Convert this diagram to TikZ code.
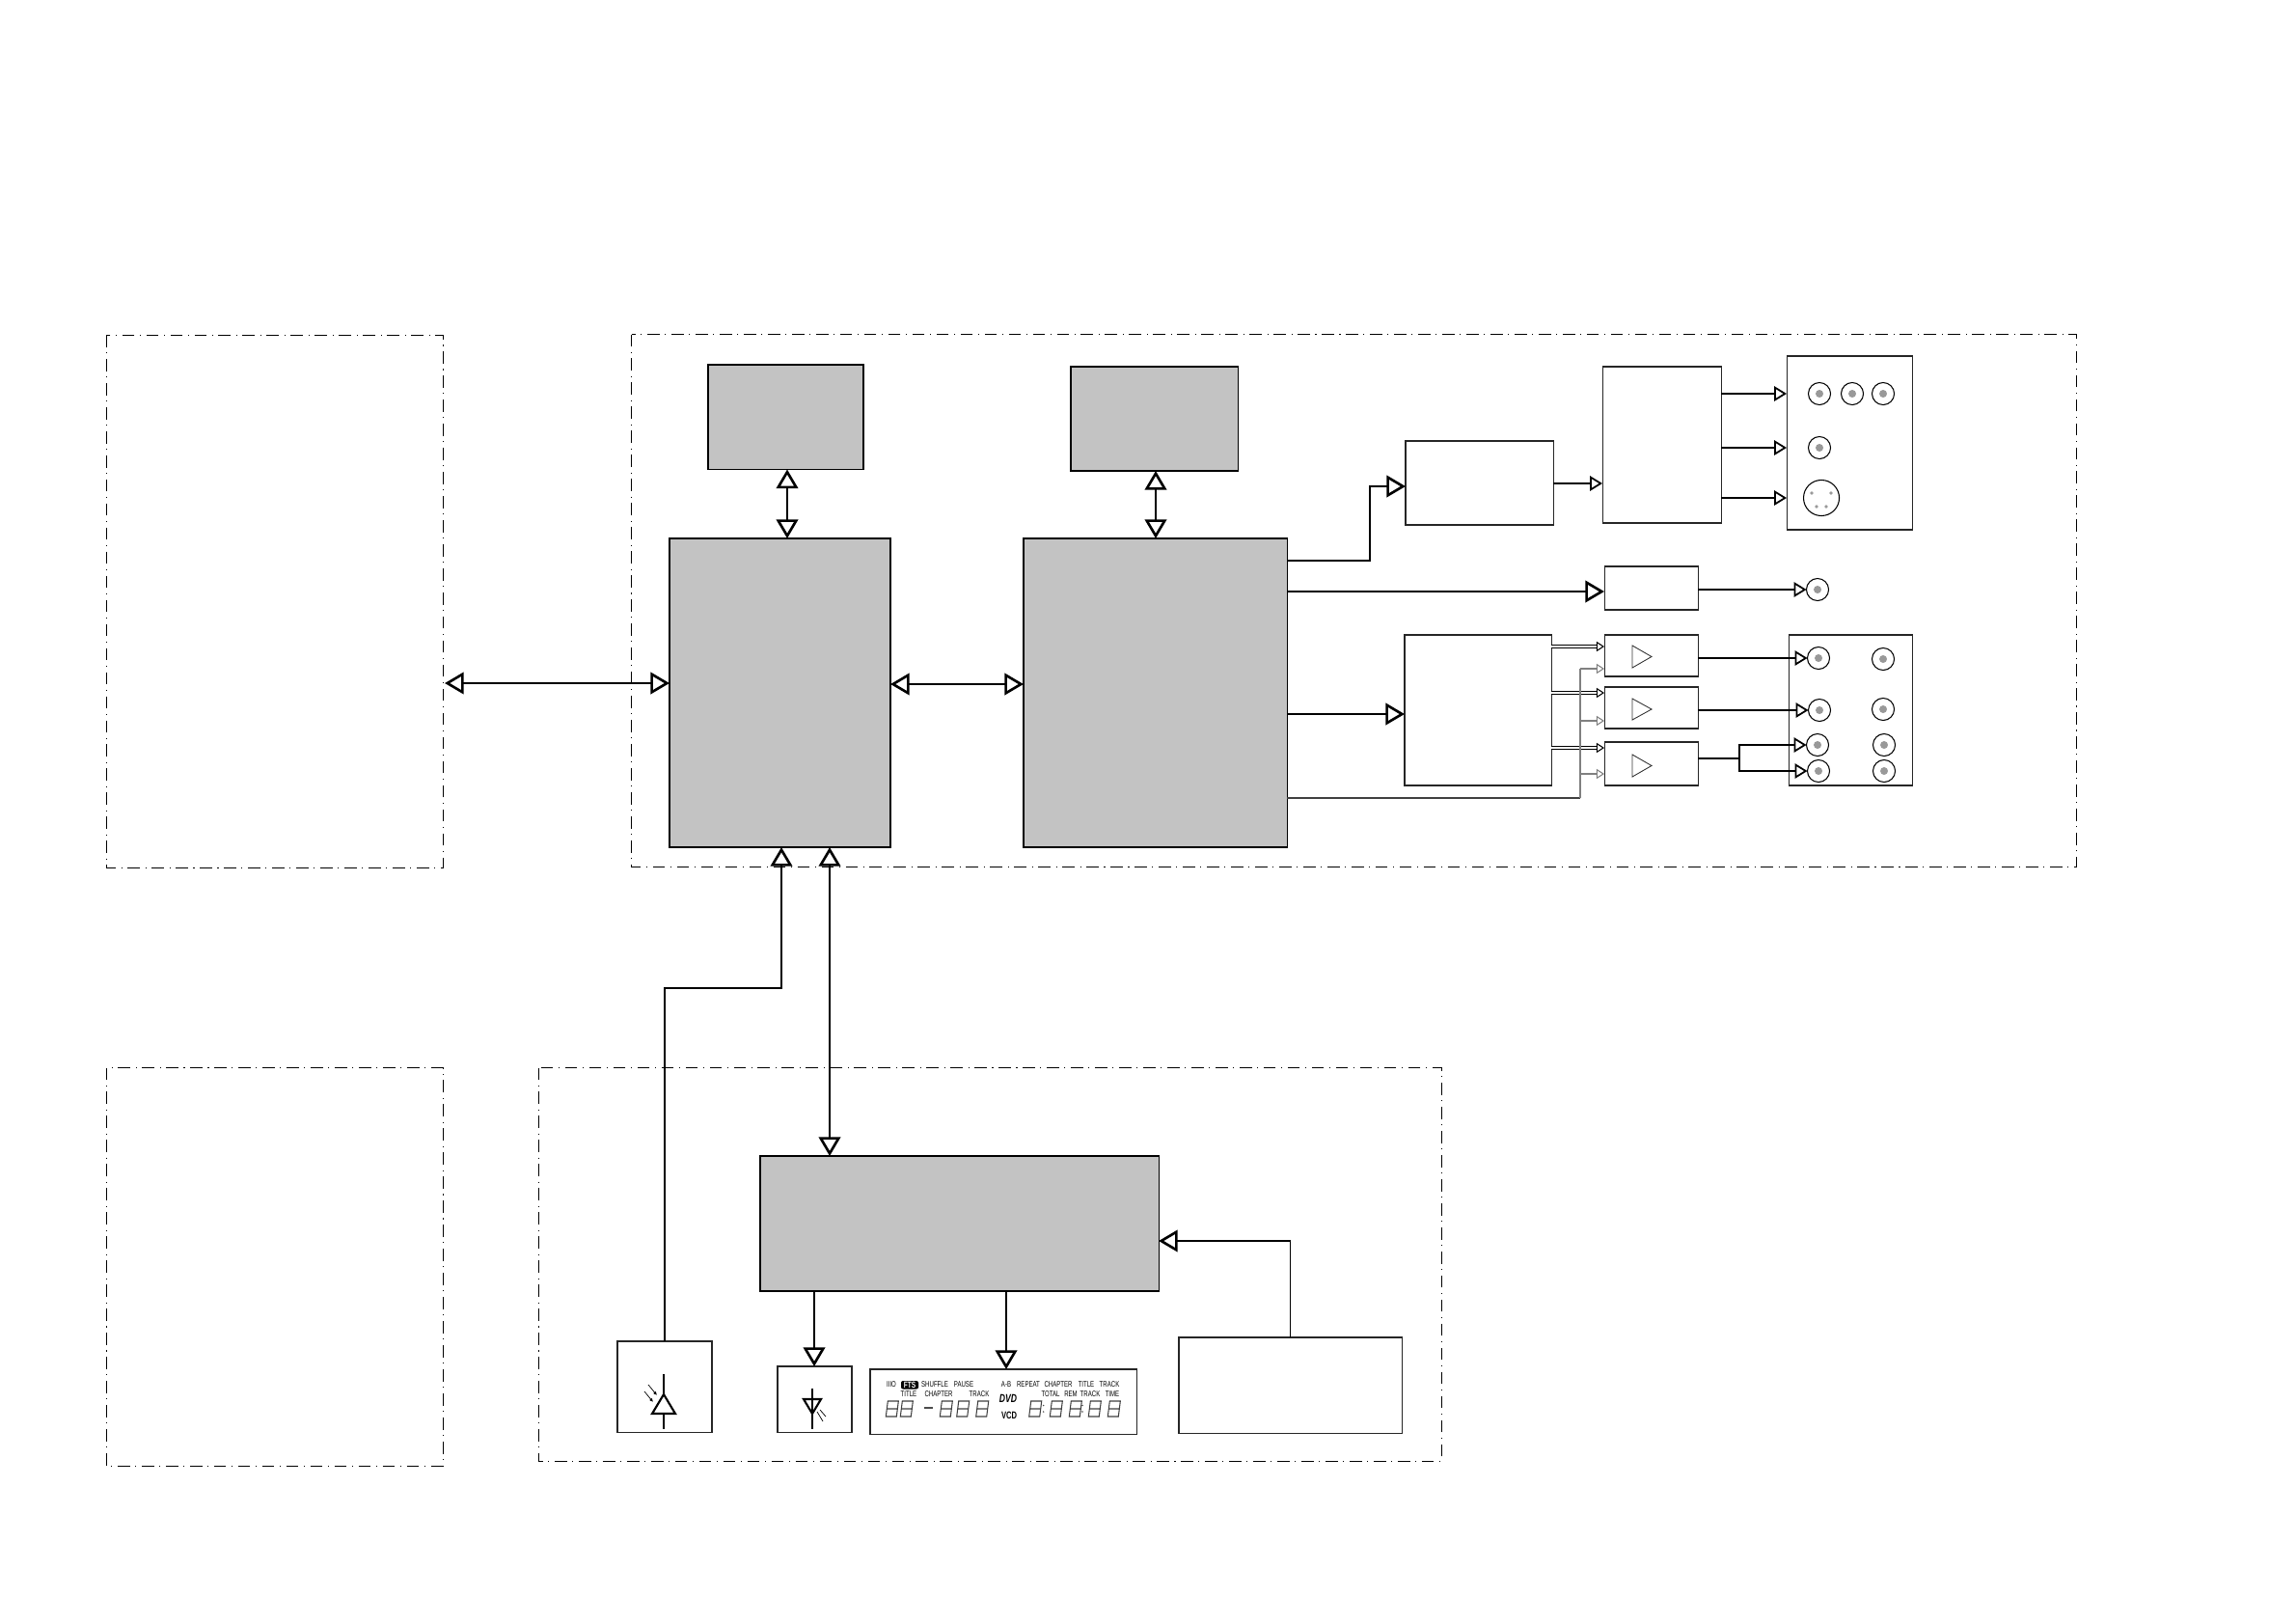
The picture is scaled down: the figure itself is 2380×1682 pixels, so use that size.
\documentclass[tikz,border=0pt]{standalone}
\usepackage{fontspec}
\usetikzlibrary{arrows.meta,shapes.geometric}
\newfontfamily\lcdfont[FakeStretch=0.72]{Liberation Sans}
\definecolor{panelgray}{HTML}{C3C3C3}
\definecolor{pingray}{HTML}{999999}
\tikzset{
  frame/.style={draw=black,line width=0.27pt,dash pattern=on 3.6pt off 1.6pt on 0.3pt off 1.6pt},
  plainbox/.style={draw=black!85,fill=white,line width=0.3pt,inner sep=0pt,outer sep=0pt},
  graybox/.style={draw=black,fill=panelgray,line width=0.3pt,inner sep=0pt,outer sep=0pt},
  wire/.style={draw=black,line width=0.55pt,line join=miter},
  thick wire/.style={draw=black,line width=0.65pt,line join=miter},
  tipbig/.style={-{Triangle[fill=white,length=5.6pt,width=6.4pt,line width=0.75pt]}},
  tipboth/.style={{Triangle[fill=white,length=5.6pt,width=6.4pt,line width=0.75pt]}-{Triangle[fill=white,length=5.6pt,width=6.4pt,line width=0.75pt]}},
  tipmid/.style={-{Triangle[fill=white,length=3.7pt,width=4.4pt,line width=0.5pt]}},
  tipsmall/.style={-{Triangle[fill=white,length=2.3pt,width=2.9pt,line width=0.3pt]}},
  pairwire/.style={draw=black,line width=0.3pt,double=white,double distance=0.3pt},
  buswire/.style={draw=black!50,line width=0.45pt},
  feedwire/.style={draw=black!75,line width=0.4pt},
  jack/.style={ellipse,draw=black,fill=white,line width=0.3pt,inner sep=0pt,outer sep=0pt},
  ampsym/.style={draw=black!80,line width=0.25pt,line join=miter},
  lcd/.style={inner sep=0pt,outer sep=0pt,font=\lcdfont\fontsize{2.4}{3}\selectfont},
  seg/.style={draw=black!75,line width=0.3pt},
}
% name, x1, y1, x2, y2, style
\newcommand{\BoxAt}[6]{%
  \pgfmathsetmacro{\bxw}{(#4-#2)*0.01}%
  \pgfmathsetmacro{\bxh}{(#5-#3)*0.01}%
  \pgfmathsetmacro{\bxx}{(#2+#4)/2}%
  \pgfmathsetmacro{\bxy}{(#3+#5)/2}%
  \node[#6,minimum width=\bxw cm,minimum height=\bxh cm] (#1) at (\bxx,\bxy) {};}
% name, x, y
\newcommand{\JackAt}[3]{%
  \node[jack,minimum width=0.23cm,minimum height=0.23cm] (#1) at (#2,#3) {};
  \fill[pingray] (#1.center) circle[radius=0.04cm];}
% one outlined seven-segment digit with left edge at #1
\newcommand{\Digit}[1]{%
  \draw[seg] (#1,1468) -- ++(11,0) -- ++(2,-16) -- ++(-11,0) -- cycle
             (#1+1,1460) -- ++(11,0);}
\newcommand{\Lcd}[4]{\node[lcd] (#1) at (#2,#3) {#4};}
\begin{document}
\begin{tikzpicture}[x=0.01cm,y=-0.01cm]
\useasboundingbox (0,0) rectangle (2380,1682);
% frames
\draw[frame] (110,347) rectangle (459,899);
\draw[frame] (654.5,346.5) rectangle (2152,898.5);
\draw[frame] (110,1106.5) rectangle (459,1519);
\draw[frame] (558,1106.5) rectangle (1494,1514);
% helper lines
\foreach \v in {816,1198,860,1043,1337,1420,1803,1638}{\coordinate (v\v) at (\v,0);}
\foreach \h in {504,501,408,464,516,581,613,786,670,718,775,693,747,802,827,708,709,740,1024,1286}{\coordinate (h\h) at (0,\h);}
\coordinate (vup) at (810,0);
\coordinate (vled) at (844,0);
% main blocks
\BoxAt{left1}{110}{347}{461}{899}{draw=none,inner sep=0pt,outer sep=0pt}
\BoxAt{A}{734}{378}{895}{486.5}{graybox}
\BoxAt{B}{1110}{380}{1283}{488}{graybox}
\BoxAt{C}{694}{558}{923}{878}{graybox}
\BoxAt{D}{1061}{558}{1334}{878}{graybox}
\BoxAt{E}{788}{1198}{1201}{1338}{graybox}
\BoxAt{F}{1457}{457}{1610}{544}{plainbox}
\BoxAt{G}{1661}{380}{1784}{542}{plainbox}
\BoxAt{H}{1852}{369}{1982}{549}{plainbox}
\BoxAt{I}{1663}{587}{1760}{632}{plainbox}
\BoxAt{K}{1456}{658}{1608}{814}{plainbox}
\BoxAt{Aa}{1663}{658}{1760}{701}{plainbox}
\BoxAt{Ab}{1663}{712}{1760}{755}{plainbox}
\BoxAt{Ac}{1663}{769}{1760}{814}{plainbox}
\BoxAt{J}{1854}{658}{1982}{814}{plainbox}
\BoxAt{L}{640}{1390}{738}{1484}{plainbox}
\BoxAt{M}{806}{1416}{883}{1484}{plainbox}
\BoxAt{P}{902}{1419}{1178}{1486}{plainbox}
\BoxAt{N}{1222}{1386}{1453}{1485}{plainbox}
% jacks on the panels
\JackAt{h1}{1886}{408}
\JackAt{h2}{1920}{408}
\JackAt{h3}{1952}{408}
\JackAt{h4}{1886}{464}
\node[jack,minimum width=0.37cm,minimum height=0.37cm] (din) at (1888,516) {};
\foreach \px/\py in {1878/511,1898/511,1883/525,1893/525}{\fill[pingray] (\px,\py) circle[radius=0.019cm];}
\JackAt{r}{1884}{611}
\JackAt{j1}{1885}{682}
\JackAt{j2}{1886}{736}
\JackAt{j3}{1884}{772}
\JackAt{j4}{1885}{799}
\JackAt{j5}{1952}{683}
\JackAt{j6}{1952}{735}
\JackAt{j7}{1953}{772}
\JackAt{j8}{1953}{799}
% amplifier symbols
\foreach \t/\m/\b in {669/680.5/692,724/735/746,782/793.5/805}{\draw[ampsym] (1692,\t) -- (1712,\m) -- (1692,\b) -- cycle;}
% big connectors
\draw[wire,tipboth] (left1.east |- h708) -- (C.west |- h708);
\draw[wire,tipboth] (C.east |- h709) -- (D.west |- h709);
\draw[wire,tipboth] (v816 |- A.south) -- (v816 |- C.north);
\draw[wire,tipboth] (v1198 |- B.south) -- (v1198 |- D.north);
\draw[wire,tipboth] (v860 |- C.south) -- (v860 |- E.north);
\draw[wire,tipbig] (L.north) -- (L.north |- h1024) -- (vup |- h1024) -- (vup |- C.south);
\draw[wire,tipbig] (vled |- E.south) -- (vled |- M.north);
\draw[wire,tipbig] (v1043 |- E.south) -- (v1043 |- P.north);
\draw[wire,tipbig] (N.north) -- (N.north |- h1286) -- (E.east |- h1286);
\draw[thick wire,tipbig] (D.east |- h581) -- (v1420 |- h581) -- (v1420 |- h504) -- (F.west |- h504);
\draw[wire,tipbig] (D.east |- h613) -- (I.west |- h613);
\draw[thick wire,tipbig] (D.east |- h740) -- (K.west |- h740);
% medium connectors
\draw[wire,tipmid] (F.east |- h501) -- (G.west |- h501);
\draw[wire,tipmid] (G.east |- h408) -- (H.west |- h408);
\draw[wire,tipmid] (G.east |- h464) -- (H.west |- h464);
\draw[wire,tipmid] (G.east |- h516) -- (H.west |- h516);
\draw[wire,tipmid] (I.east |- r.west) -- (r.west);
\draw[wire,tipmid] (Aa.east |- j1.west) -- (j1.west);
\draw[wire,tipmid] (Ab.east |- j2.west) -- (j2.west);
\draw[wire] (Ac.east |- h786) -- (v1803 |- h786);
\draw[wire,tipmid] (v1803 |- h786) -- (v1803 |- j3.west) -- (j3.west);
\draw[wire,tipmid] (v1803 |- h786) -- (v1803 |- j4.west) -- (j4.west);
% paired lines
\draw[pairwire] (K.east |- h670) -- ([xshift=-0.07cm]Aa.west |- h670);
\draw[pairwire] (K.east |- h718) -- ([xshift=-0.07cm]Ab.west |- h718);
\draw[pairwire] (K.east |- h775) -- ([xshift=-0.07cm]Ac.west |- h775);
\foreach \h/\t in {670/Aa,718/Ab,775/Ac}{
  \draw[line width=0.3pt,tipsmall] ([xshift=-0.07cm]\t.west |- h\h) -- (\t.west |- h\h);}
% shared bus
\draw[feedwire] (D.east |- h827) -- (v1638 |- h827);
\draw[buswire] (v1638 |- h827) -- (v1638 |- h693);
\draw[buswire,tipsmall] (v1638 |- h693) -- (Aa.west |- h693);
\draw[buswire,tipsmall] (v1638 |- h747) -- (Ab.west |- h747);
\draw[buswire,tipsmall] (v1638 |- h802) -- (Ac.west |- h802);
% photodiode
\draw[line width=0.42pt] (688,1424) -- (688,1445) (688,1465) -- (688,1481);
\draw[line width=0.6pt,line join=miter] (688,1445) -- (700,1465) -- (676,1465) -- cycle;
\draw[line width=0.2pt,-{Latex[length=1.1pt,width=1pt]}] (672,1435) -- (681,1446);
\draw[line width=0.2pt,-{Latex[length=1.1pt,width=1pt]}] (668,1442) -- (677,1453);
% LED
\draw[line width=0.42pt] (842,1439) -- (842,1481);
\draw[line width=0.6pt,line join=miter] (833,1450) -- (851,1450) -- (842,1465) -- cycle;
\draw[line width=0.2pt] (847,1463) -- (853,1473);
\draw[line width=0.2pt] (850,1461) -- (856,1468);
% display panel
\fill[black,rounded corners=0.02cm] (934,1431) rectangle (952,1439.5);
\Lcd{d0}{924}{1435}{IIIO}
\node[lcd,text=white,font=\lcdfont\bfseries\fontsize{2.6}{3}\selectfont] (d1) at (943,1435) {FTS};
\Lcd{d2}{969}{1435}{SHUFFLE}
\Lcd{d3}{999}{1435}{PAUSE}
\Lcd{d4}{1043}{1435}{A-B}
\Lcd{d5}{1066}{1435}{REPEAT}
\Lcd{d6}{1097}{1435}{CHAPTER}
\Lcd{d7}{1126}{1435}{TITLE}
\Lcd{d8}{1150}{1435}{TRACK}
\Lcd{d9}{942}{1445}{TITLE}
\Lcd{d10}{973}{1445}{CHAPTER}
\Lcd{d11}{1015}{1445}{TRACK}
\Lcd{d12}{1089}{1445}{TOTAL}
\Lcd{d13}{1110}{1445}{REM}
\Lcd{d14}{1130}{1445}{TRACK}
\Lcd{d15}{1153}{1445}{TIME}
\node[lcd,font=\lcdfont\bfseries\itshape\fontsize{3.4}{3}\selectfont] (d16) at (1045,1449) {DVD};
\node[lcd,font=\lcdfont\bfseries\fontsize{3}{3}\selectfont] (d17) at (1046,1467) {VCD};
\foreach \dx in {918.3,933.3,974.3,991.7,1011.7,1066.7,1088.3,1108.3,1128.3,1148.3}{\Digit{\dx}}
\draw[line width=0.4pt,black!70] (958,1459) -- (967,1459);
\foreach \cx in {1081.7,1122}{\fill[black!70] (\cx,1456.5) circle[radius=0.008cm] (\cx,1463) circle[radius=0.008cm];}
\end{tikzpicture}
\end{document}
